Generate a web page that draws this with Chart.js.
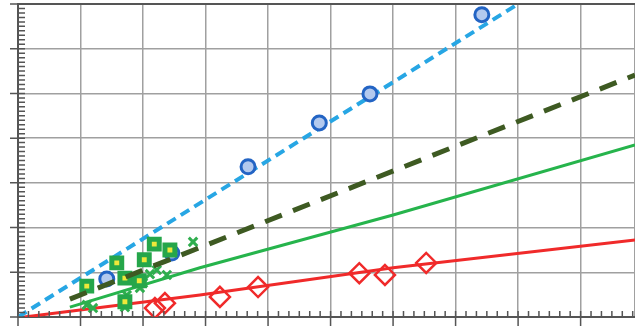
<!DOCTYPE html>
<html>
<head>
<meta charset="utf-8">
<script src="https://cdn.jsdelivr.net/npm/chart.js@4/dist/chart.umd.min.js"></script>
<style>
  html, body { margin: 0; padding: 0; background: #fff; }
  #wrap { width: 635px; height: 329px; }
</style>
</head>
<body>
<div id="wrap"><canvas id="myChart"></canvas></div>
<script>
// blue circles
const blueX = [1.42, 2.46, 3.68, 4.82, 5.63, 7.42];
const blueY = [0.85, 1.43, 3.36, 4.34, 4.99, 6.76];
// red diamonds
const redX = [2.19, 2.35, 3.23, 3.84, 5.46, 5.87, 6.53];
const redY = [0.20, 0.31, 0.45, 0.67, 0.98, 0.94, 1.21];
// green squares (yellow centre)
const squareX = [1.10, 1.58, 1.71, 2.02, 2.18, 1.94, 1.71, 2.43];
const squareY = [0.69, 1.21, 0.87, 1.28, 1.63, 0.81, 0.34, 1.50];
// green crosses
const crossX = [1.10, 1.20, 1.74, 1.71, 1.95, 2.00, 2.11, 2.22, 2.38, 2.80];
const crossY = [0.27, 0.20, 0.49, 0.22, 0.65, 0.76, 0.96, 1.05, 0.94, 1.68];
// fitted lines
const blueFitX = [0, 8.0];
const blueFitY = [0, 7.0];
const darkFitX = [0.83, 9.87];
const darkFitY = [0.40, 5.41];
const greenFitX = [0.83, 2.91, 6.0, 9.87];
const greenFitY = [0.22, 1.10, 2.28, 3.85];
const redFitX = [0.1, 2.91, 6.0, 9.87];
const redFitY = [0, 0.49, 1.10, 1.72];
// axis ranges
const xMin = 0, xMax = 9.87, xStep = 1, xMinor = 6;
const yMin = 0, yMax = 7, yStep = 1, yMinor = 10;

const pts = (xs, ys) => xs.map((x, i) => ({ x: x, y: ys[i] }));

// minor ticks and top frame, drawn through the chart's own scales
const axisTicks = {
  id: 'axisTicks',
  afterDraw(chart) {
    const ctx = chart.ctx;
    const xs = chart.scales.x, ys = chart.scales.y;
    const area = chart.chartArea;
    ctx.save();
    ctx.strokeStyle = '#555';
    ctx.lineWidth = 1.5;
    ctx.beginPath();
    for (let i = 0; xMin + i * xStep / xMinor <= xMax + 1e-9; i++) {
      const v = xMin + i * xStep / xMinor;
      const px = xs.getPixelForValue(v);
      const major = i % xMinor === 0;
      ctx.moveTo(px, area.bottom - 6);
      ctx.lineTo(px, area.bottom + (major ? 9 : 0));
    }
    for (let i = 0; yMin + i * yStep / yMinor <= yMax + 1e-9; i++) {
      const v = yMin + i * yStep / yMinor;
      const py = ys.getPixelForValue(v);
      const major = i % yMinor === 0;
      ctx.moveTo(area.left - (major ? 8 : 0), py);
      ctx.lineTo(area.left + 7, py);
    }
    ctx.stroke();
    ctx.lineWidth = 2;
    ctx.beginPath();
    ctx.moveTo(area.left, area.top);
    ctx.lineTo(area.right, area.top);
    ctx.stroke();
    ctx.restore();
  }
};

new Chart('myChart', {
  type: 'scatter',
  data: {
    datasets: [
      {
        label: 'blue fit',
        data: pts(blueFitX, blueFitY),
        showLine: true,
        borderColor: '#27a6e4',
        borderWidth: 4,
        borderDash: [10, 6],
        pointRadius: 0,
        order: 5
      },
      {
        label: 'dark fit',
        data: pts(darkFitX, darkFitY),
        showLine: true,
        borderColor: '#3e5a22',
        borderWidth: 5,
        borderDash: [18, 12],
        pointRadius: 0,
        order: 1
      },
      {
        label: 'green fit',
        data: pts(greenFitX, greenFitY),
        showLine: true,
        borderColor: '#26b44c',
        borderWidth: 3,
        pointRadius: 0,
        order: 6
      },
      {
        label: 'red fit',
        data: pts(redFitX, redFitY),
        showLine: true,
        borderColor: '#f02a2a',
        borderWidth: 3,
        pointRadius: 0,
        order: 6
      },
      {
        label: 'blue',
        data: pts(blueX, blueY),
        pointStyle: 'circle',
        pointRadius: 7,
        borderWidth: 3,
        borderColor: '#2364c4',
        backgroundColor: '#b3c9ee',
        order: 4
      },
      {
        label: 'red',
        data: pts(redX, redY),
        pointStyle: 'rectRot',
        pointRadius: 10,
        borderWidth: 2.5,
        borderColor: '#f02a2a',
        backgroundColor: 'rgba(255,255,255,0)',
        order: 3
      },
      {
        label: 'crosses',
        data: pts(crossX, crossY),
        pointStyle: 'crossRot',
        pointRadius: 6,
        borderWidth: 3,
        borderColor: '#2fae4e',
        order: 3
      },
      {
        label: 'squares',
        data: pts(squareX, squareY),
        pointStyle: 'rect',
        pointRadius: 7,
        borderWidth: 5,
        borderColor: '#25a64a',
        backgroundColor: '#eee83a',
        order: 2
      }
    ]
  },
  options: {
    responsive: true,
    maintainAspectRatio: false,
    animation: false,
    layout: { autoPadding: false, padding: { left: 18, top: 4, right: 0, bottom: 12 } },
    plugins: {
      legend: { display: false },
      tooltip: { enabled: false }
    },
    scales: {
      x: {
        type: 'linear',
        min: xMin,
        max: xMax,
        ticks: { display: false, stepSize: xStep },
        grid: { color: '#a0a0a0', lineWidth: 1.5, drawTicks: false },
        border: { display: true, color: '#555', width: 2 }
      },
      y: {
        type: 'linear',
        min: yMin,
        max: yMax,
        ticks: { display: false, stepSize: yStep },
        grid: { color: '#a0a0a0', lineWidth: 1.5, drawTicks: false },
        border: { display: true, color: '#555', width: 2 }
      }
    }
  },
  plugins: [axisTicks]
});
</script>
</body>
</html>
